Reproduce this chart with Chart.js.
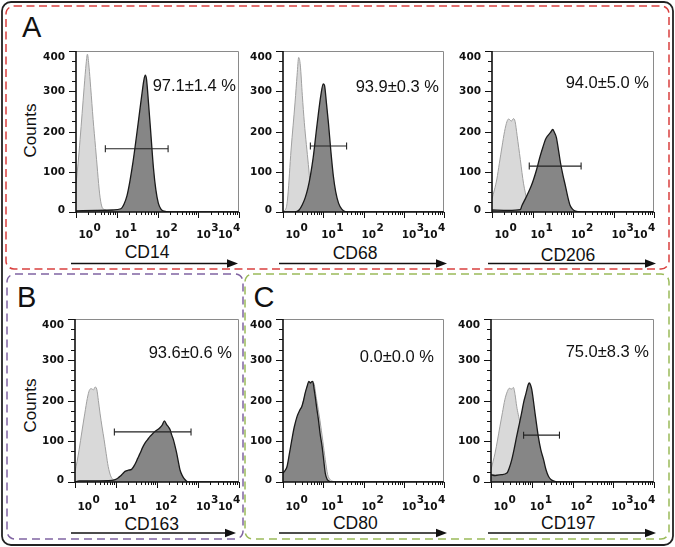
<!DOCTYPE html>
<html>
<head>
<meta charset="utf-8">
<script src="https://cdn.jsdelivr.net/npm/chart.js@4.4.1/dist/chart.umd.min.js"></script>
<style>
html,body{margin:0;padding:0;background:#fff;}
#page{position:relative;width:675px;height:547px;overflow:hidden;font-family:"Liberation Sans",Arial,sans-serif;color:#111;}
#page canvas{position:absolute;}
.lbl{position:absolute;line-height:1;white-space:nowrap;color:#111;}
.letter{font-size:29px;}
.marker{font-size:17.5px;width:100px;text-align:center;}
.counts{font-size:17px;width:60px;height:17px;text-align:center;transform:rotate(-90deg);}
</style>
</head>
<body>
<div id="page">
<svg width="675" height="547" style="position:absolute;left:0;top:0">
  <rect x="2" y="2" width="671" height="543" rx="9" fill="none" stroke="#222" stroke-width="1.8"/>
  <rect x="6" y="6" width="663" height="263" rx="8" fill="none" stroke="#d9403f" stroke-width="1.5" stroke-dasharray="8 4.5"/>
  <rect x="7" y="274" width="236" height="265" rx="8" fill="none" stroke="#8064a2" stroke-width="1.5" stroke-dasharray="8 5"/>
  <rect x="245" y="274" width="424" height="265" rx="8" fill="none" stroke="#9bbb59" stroke-width="1.5" stroke-dasharray="8 5"/>
  <g stroke="#111" stroke-width="1.6">
    <line x1="71" y1="263.5" x2="229" y2="263.5"/>
    <line x1="279" y1="263.5" x2="439" y2="263.5"/>
    <line x1="488" y1="263.5" x2="647" y2="263.5"/>
    <line x1="71" y1="533" x2="227" y2="533"/>
    <line x1="279" y1="533" x2="439" y2="533"/>
    <line x1="488" y1="533" x2="647" y2="533"/>
  </g>
  <g fill="#111">
    <polygon points="238,263.5 227,259.3 227,267.7"/>
    <polygon points="447,263.5 436,259.3 436,267.7"/>
    <polygon points="656,263.5 645,259.3 645,267.7"/>
    <polygon points="236,533 225,528.8 225,537.2"/>
    <polygon points="447,533 436,528.8 436,537.2"/>
    <polygon points="656,533 645,528.8 645,537.2"/>
  </g>
</svg>
<div class="lbl letter" style="left:22px;top:13px">A</div>
<div class="lbl letter" style="left:17px;top:282.5px">B</div>
<div class="lbl letter" style="left:253.5px;top:282.5px">C</div>
<div class="lbl counts" style="left:0px;top:121.5px">Counts</div>
<div class="lbl counts" style="left:0px;top:396.5px">Counts</div>
<div id="markers"></div>
</div>
<script>
// ---------- DATA ----------
const markerNames = ['CD14', 'CD68', 'CD206', 'CD163', 'CD80', 'CD197'];
const percentLabels = ['97.1±1.4 %', '93.9±0.3 %', '94.0±5.0 %', '93.6±0.6 %', '0.0±0.0 %', '75.0±8.3 %'];
const yTicks = [0, 100, 200, 300, 400];          // Counts
const xDecades = [0, 1, 2, 3, 4];                // log10 of fluorescence (10^0 .. 10^4)

// histograms: [log10 intensity, counts]
const cd14Control = [[0,70],[0.05,120],[0.1,180],[0.15,245],[0.2,310],[0.25,370],[0.28,392],[0.32,360],[0.36,310],[0.42,230],[0.48,160],[0.53,100],[0.58,45],[0.63,15],[0.7,6],[0.85,3],[1.1,1],[1.5,0],[4,0]];
const cd14Sample  = [[0,3],[0.5,4],[0.9,5],[1.1,8],[1.18,20],[1.25,40],[1.32,75],[1.4,125],[1.48,185],[1.55,240],[1.62,295],[1.67,330],[1.7,340],[1.73,330],[1.78,270],[1.84,190],[1.9,110],[1.96,55],[2.02,22],[2.08,8],[2.16,2],[2.3,0],[4,0]];
const cd68Control = [[0,2],[0.08,10],[0.12,40],[0.2,154],[0.3,273],[0.35,340],[0.39,384],[0.43,365],[0.48,290],[0.53,222],[0.58,168],[0.63,118],[0.68,62],[0.72,22],[0.8,6],[0.9,1],[1.1,0],[4,0]];
const cd68Sample  = [[0,0],[0.3,0],[0.4,5],[0.48,18],[0.55,35],[0.62,60],[0.68,90],[0.75,135],[0.82,195],[0.88,245],[0.94,290],[1.0,318],[1.03,315],[1.08,270],[1.13,220],[1.19,150],[1.25,90],[1.31,50],[1.38,22],[1.46,7],[1.55,1],[1.7,0],[4,0]];
const cd206Control = [[0,33],[0.06,55],[0.12,82],[0.18,120],[0.25,164],[0.31,200],[0.37,225],[0.41,231],[0.48,226],[0.53,232],[0.57,225],[0.62,190],[0.66,160],[0.7,130],[0.74,98],[0.78,70],[0.82,49],[0.86,30],[0.9,16],[0.96,6],[1.05,2],[1.2,0],[4,0]];
const cd206Sample  = [[0,5],[0.4,4],[0.7,6],[0.74,16],[0.82,32],[0.9,49],[0.97,65],[1.03,82],[1.1,105],[1.19,139],[1.26,162],[1.32,180],[1.38,190],[1.44,197],[1.5,205],[1.54,198],[1.59,185],[1.64,155],[1.69,123],[1.75,92],[1.81,66],[1.87,38],[1.93,16],[2.0,6],[2.06,2],[2.2,0],[4,0]];
const cd163Control = [[0,26],[0.05,50],[0.1,79],[0.17,125],[0.24,169],[0.3,205],[0.35,225],[0.4,229],[0.45,226],[0.49,233],[0.53,228],[0.57,200],[0.61,169],[0.66,135],[0.71,104],[0.76,70],[0.81,38],[0.87,15],[0.93,6],[1.0,1],[1.1,0],[4,0]];
const cd163Sample  = [[0,0],[0.1,3],[0.5,3],[0.9,4],[0.98,6],[1.05,10],[1.1,14],[1.16,20],[1.22,26],[1.3,29],[1.38,31],[1.46,43],[1.53,58],[1.59,71],[1.65,85],[1.71,96],[1.77,104],[1.83,112],[1.89,118],[1.95,124],[2.01,128],[2.07,133],[2.13,140],[2.18,150],[2.24,140],[2.28,135],[2.32,128],[2.36,115],[2.4,104],[2.44,88],[2.48,71],[2.52,50],[2.56,30],[2.62,15],[2.68,6],[2.76,0],[4,0]];
const cd80Control = [[0,18],[0.1,32],[0.22,95],[0.35,155],[0.47,185],[0.55,215],[0.64,243],[0.69,240],[0.76,243],[0.83,205],[0.92,150],[0.99,100],[1.05,55],[1.11,18],[1.17,6],[1.23,2],[1.35,0],[4,0]];
const cd80Sample  = [[0,22],[0.05,28],[0.1,38],[0.16,70],[0.22,104],[0.28,135],[0.35,161],[0.41,175],[0.47,186],[0.51,200],[0.55,218],[0.6,235],[0.64,247],[0.68,243],[0.71,246],[0.74,247],[0.77,230],[0.8,210],[0.84,180],[0.88,153],[0.92,120],[0.97,88],[1.01,55],[1.05,22],[1.09,8],[1.13,3],[1.2,0],[4,0]];
const cd197Control = [[0,30],[0.05,50],[0.1,71],[0.16,103],[0.22,137],[0.28,170],[0.34,202],[0.4,222],[0.45,230],[0.5,228],[0.55,232],[0.59,215],[0.63,186],[0.67,165],[0.71,145],[0.76,110],[0.81,70],[0.85,45],[0.9,22],[0.96,8],[1.05,2],[1.2,0],[4,0]];
const cd197Sample  = [[0,18],[0.1,16],[0.25,18],[0.39,22],[0.45,35],[0.51,55],[0.57,82],[0.63,112],[0.69,140],[0.75,169],[0.8,195],[0.86,218],[0.91,238],[0.94,243],[0.97,238],[1.0,227],[1.04,200],[1.08,169],[1.12,140],[1.16,112],[1.22,80],[1.29,55],[1.35,30],[1.41,14],[1.47,6],[1.53,3],[1.66,0],[4,0]];

// positive gates: [from, to, height]
const cd14Gate  = [0.72, 2.26, 157];
const cd68Gate  = [0.68, 1.58, 164];
const cd206Gate = [0.92, 2.2, 114];
const cd163Gate = [0.96, 2.83, 123];
const cd80Gate  = null;
const cd197Gate = [0.8, 1.68, 115];

const controls = [cd14Control, cd68Control, cd206Control, cd163Control, cd80Control, cd197Control];
const samples  = [cd14Sample, cd68Sample, cd206Sample, cd163Sample, cd80Sample, cd197Sample];
const gates    = [cd14Gate, cd68Gate, cd206Gate, cd163Gate, cd80Gate, cd197Gate];

// ---------- LAYOUT / STYLE ----------
const boxes = [
  {L:76, T:51, R:239, B:212, pr:3,  pt:35, xdy:26, mx:147,   my:244.2},
  {L:283,T:51, R:444, B:212, pr:5,  pt:36, xdy:26, mx:355,   my:245.2},
  {L:492,T:51, R:654, B:212, pr:5,  pt:32, xdy:26, mx:568,   my:246.7},
  {L:75, T:319,R:239, B:482, pr:7,  pt:34, xdy:28, mx:151.7, my:515.9},
  {L:283,T:319,R:444, B:482, pr:10, pt:38, xdy:28, mx:355.3, my:515.2},
  {L:491,T:319,R:654, B:482, pr:5,  pt:33, xdy:28, mx:568.3, my:514.5}
];
const PAD = {left:50, top:12, right:10, bottom:34};
const TICK_FONT = 'bold 10.5px "DejaVu Sans"';
const PCT_FONT = '16.5px "Liberation Sans"';
const SUP = ['0','1','2','3','4'];

const flowAxes = {
  id: 'flowAxes',
  afterDatasetsDraw(chart, args, opts) {
    const ctx = chart.ctx, a = chart.chartArea, xs = chart.scales.x, ys = chart.scales.y;
    const line = (x1, y1, x2, y2) => { ctx.beginPath(); ctx.moveTo(x1, y1); ctx.lineTo(x2, y2); ctx.stroke(); };
    ctx.save();
    ctx.strokeStyle = '#8a8a8a'; ctx.lineWidth = 1;
    ctx.beginPath(); ctx.moveTo(a.left, a.top + 0.5); ctx.lineTo(a.right - 0.5, a.top + 0.5); ctx.lineTo(a.right - 0.5, a.bottom); ctx.stroke();
    ctx.strokeStyle = '#111'; ctx.lineWidth = 1.6;
    ctx.beginPath(); ctx.moveTo(a.left, a.top); ctx.lineTo(a.left, a.bottom); ctx.lineTo(a.right, a.bottom); ctx.stroke();
    ctx.lineWidth = 1;
    ctx.font = TICK_FONT; ctx.fillStyle = '#111'; ctx.textAlign = 'right'; ctx.textBaseline = 'middle';
    yTicks.forEach((v, i) => {
      const py = Math.round(ys.getPixelForValue(v)) + 0.5;
      line(a.left - 7, py, a.left, py);
      if (i < yTicks.length - 1) {
        const step = (yTicks[i + 1] - v) / 4;
        for (let k = 1; k < 4; k++) {
          const pm = Math.round(ys.getPixelForValue(v + k * step)) + 0.5;
          line(a.left - 4, pm, a.left, pm);
        }
      }
      let ly = Math.max(py, a.top + 6);
      if (v === 0) ly = py - 2;
      ctx.fillText(String(v), a.left - 11, ly);
    });
    xDecades.forEach((d, i) => {
      const px = Math.round(xs.getPixelForValue(d)) + 0.5;
      line(px, a.bottom, px, a.bottom + 6);
      if (i < xDecades.length - 1) {
        for (let k = 2; k < 10; k++) {
          const pm = Math.round(xs.getPixelForValue(d + Math.log10(k))) + 0.5;
          line(pm, a.bottom, pm, a.bottom + 3);
        }
      }
    });
    ctx.textAlign = 'left'; ctx.textBaseline = 'alphabetic';
    const by = a.bottom + opts.xdy;
    xDecades.forEach((d, i) => {
      const px = xs.getPixelForValue(d);
      const w10 = ctx.measureText('10').width, ws = ctx.measureText(SUP[i]).width;
      let sx = px - 2;
      if (i === 0) sx = px + 2.4;
      if (i === xDecades.length - 1) sx = px + 1.3 - (w10 + ws + 0.5);
      ctx.fillText('10', sx, by);
      ctx.fillText(SUP[i], sx + w10 + 0.5, by - 7);
    });
    ctx.font = PCT_FONT; ctx.textAlign = 'right'; ctx.textBaseline = 'middle';
    ctx.fillText(opts.pct, a.right - opts.pr, a.top + opts.pt);
    ctx.restore();
  }
};

const page = document.getElementById('page');
const markersDiv = document.getElementById('markers');
boxes.forEach((b, i) => {
  const cv = document.createElement('canvas');
  const w = (b.R - b.L) + PAD.left + PAD.right, h = (b.B - b.T) + PAD.top + PAD.bottom;
  cv.width = w; cv.height = h;
  cv.style.left = (b.L - PAD.left) + 'px'; cv.style.top = (b.T - PAD.top) + 'px';
  cv.style.width = w + 'px'; cv.style.height = h + 'px';
  page.appendChild(cv);

  const ds = [];
  const g = gates[i];
  if (g) {
    ds.push({
      data: [{x: g[0], y: g[2]}, {x: g[1], y: g[2]}],
      borderColor: '#222', borderWidth: 1.1, fill: false,
      pointStyle: 'line', pointRotation: 90, pointRadius: 3.5,
      pointBorderColor: '#222', pointBorderWidth: 1.1, order: 0
    });
  }
  ds.push({
    data: samples[i].map(p => ({x: p[0], y: p[1]})),
    borderColor: '#1a1a1a', borderWidth: 1.3, backgroundColor: '#868686',
    fill: 'origin', pointRadius: 0, cubicInterpolationMode: 'monotone', order: 1
  });
  ds.push({
    data: controls[i].map(p => ({x: p[0], y: p[1]})),
    borderColor: '#a0a0a0', borderWidth: 1, backgroundColor: '#d9d9d9',
    fill: 'origin', pointRadius: 0, cubicInterpolationMode: 'monotone', order: 2
  });

  new Chart(cv, {
    type: 'line',
    data: {datasets: ds},
    options: {
      responsive: false, animation: false, devicePixelRatio: 1, events: [],
      layout: {padding: PAD},
      scales: {
        x: {type: 'linear', min: 0, max: 4, display: false},
        y: {type: 'linear', min: 0, max: 400, display: false}
      },
      plugins: {
        legend: {display: false}, tooltip: {enabled: false},
        flowAxes: {pct: percentLabels[i], pr: b.pr, pt: b.pt, xdy: b.xdy}
      }
    },
    plugins: [flowAxes]
  });

  const m = document.createElement('div');
  m.className = 'lbl marker';
  m.style.left = (b.mx - 50) + 'px'; m.style.top = b.my + 'px';
  m.textContent = markerNames[i];
  markersDiv.appendChild(m);
});
</script>
</body>
</html>
